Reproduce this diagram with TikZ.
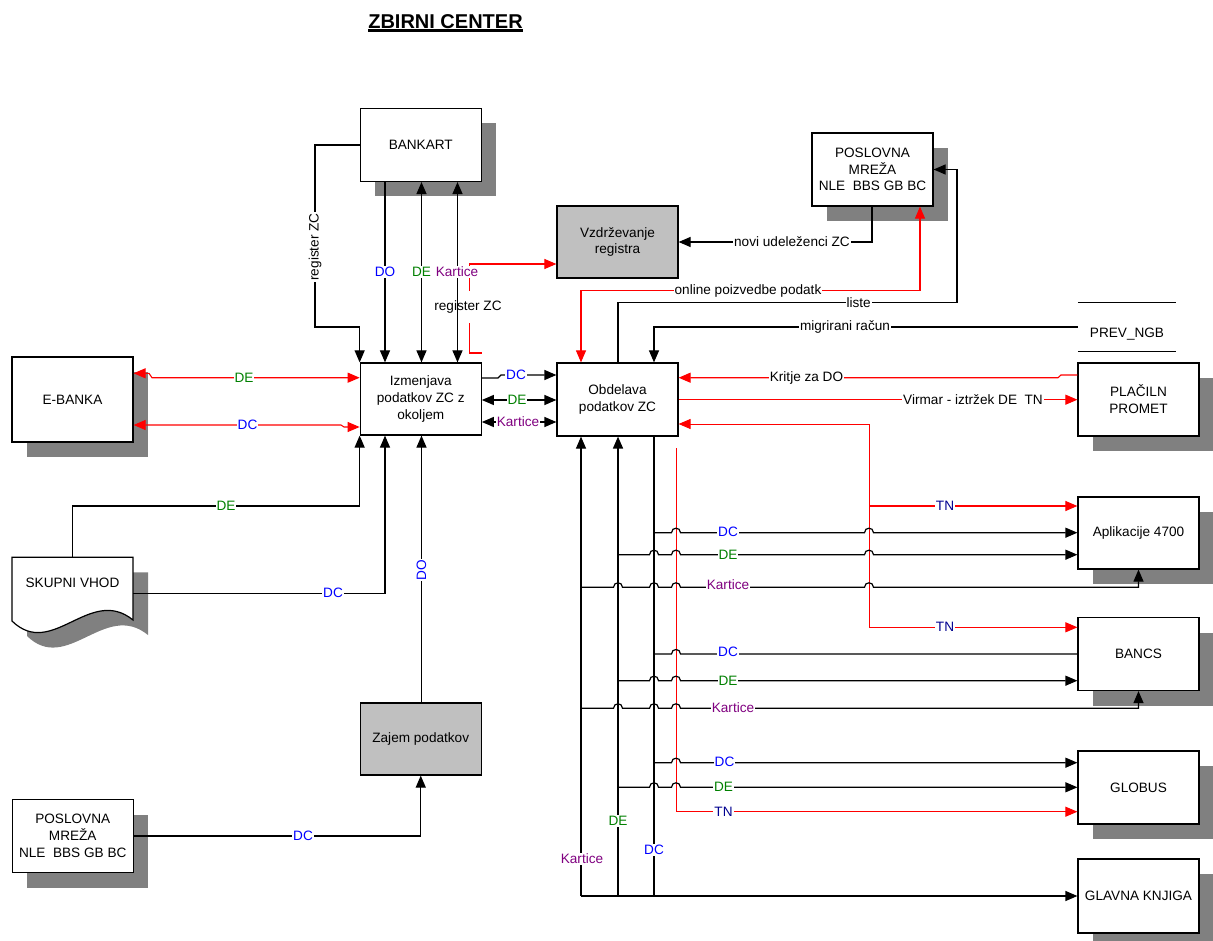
\documentclass[tikz,border=0pt]{standalone}
\usepackage{fontspec}
\setmainfont{Liberation Sans}
\usetikzlibrary{arrows.meta,shadows,calc}
\definecolor{shgray}{HTML}{808080}
\definecolor{boxgray}{HTML}{C0C0C0}
\definecolor{cDO}{HTML}{0000FF}
\definecolor{cDE}{HTML}{008000}
\definecolor{cK}{HTML}{800080}
\definecolor{cTN}{HTML}{000090}
\newcommand\lblfont{\fontsize{13.6}{16.8}\selectfont}
\newcommand\hopat[2]{-- ({#1-4.5},#2) .. controls ({#1-4.5},{#2-6}) and ({#1+4.5},{#2-6}) .. ({#1+4.5},#2)}
\begin{document}
\begin{tikzpicture}[x=1pt,y=-1pt,
  >={Triangle[length=12pt,width=10pt]},
  box/.style={draw=black, line width=1.2pt, fill=white, minimum width=121pt, minimum height=73pt, inner sep=2pt, align=center, font=\lblfont},
  shbox/.style={box, general shadow={fill=shgray, shadow xshift=15pt, shadow yshift=-15pt}},
  graybox/.style={box, fill=boxgray},
  ln/.style={line width=1.2pt, draw=black},
  rl/.style={line width=1.1pt, draw=red},
  lab/.style={fill=white, inner sep=1pt, font=\lblfont}]
\useasboundingbox (0,0) rectangle (1213,941);
\clip (0,0) rectangle (1213,941);

% title
\node[font=\fontsize{20}{24}\selectfont\bfseries, inner sep=0pt, anchor=base] (title) at (445.5,28.3) {ZBIRNI CENTER};
\draw[line width=2.2pt] ($(title.base west)+(0,2.2)$) -- ($(title.base east)+(0,2.2)$);

% nodes
\node[shbox] (bankart) at (420.75,145) {BANKART};
\node[shbox] (post) at (872.5,169.5) {POSLOVNA\\MREŽA\\NLE\ \ BBS GB BC};
\node[graybox, minimum height=72pt] (vzd) at (617.5,242) {Vzdrževanje\\registra};
\node[shbox, minimum height=85pt] (ebanka) at (72.5,399.5) {E-BANKA};
\node[box, minimum height=72pt] (izm) at (420.75,399) {Izmenjava\\podatkov ZC z\\okoljem};
\node[box] (obd) at (617.5,399.5) {Obdelava\\podatkov ZC};
\node[shbox] (plac) at (1138.5,399.5) {PLAČILN\\PROMET};
\node[shbox, minimum height=72pt] (apl) at (1138.5,533) {Aplikacije 4700};
\node[shbox] (bancs) at (1138.5,654) {BANCS};
\node[shbox] (globus) at (1138.5,787.5) {GLOBUS};
\node[shbox, minimum height=74pt] (glavna) at (1138.5,896) {GLAVNA KNJIGA};
\node[graybox, minimum height=72pt] (zajem) at (420.75,739) {Zajem podatkov};
\node[shbox] (posb) at (72.75,836) {POSLOVNA\\MREŽA\\NLE\ \ BBS GB BC};

% data store PREV_NGB
\node[minimum width=98pt, minimum height=48pt, inner sep=0pt] (prev) at (1127,327) {};
\draw[ln] (prev.north west) -- (prev.north east);
\draw[ln] (prev.south west) -- (prev.south east);
\node[font=\lblfont] (prevtxt) at (1127,334.5) {PREV\_NGB};

% SKUPNI VHOD document shape
\fill[shgray] (27,572.3) -- (148,572.3) -- (148,635) .. controls (105,600) and (67,675) .. (27,636) -- cycle;
\draw[line width=1.2pt, fill=white] (12,557.3) -- (133,557.3) -- (133,620) .. controls (90,585) and (52,660) .. (12,621) -- cycle;
\node[font=\lblfont] (skupni) at (72.5,583) {SKUPNI VHOD};
\coordinate (skuptop) at (72.8,557.3);
\coordinate (skupright) at (133,593.3);

\coordinate (xDO) at (385,0);
\coordinate (xDE) at (421.5,0);
\coordinate (xK) at (457.5,0);

% BANKART connectors
\draw[ln,->] (bankart.west) -- (315,145) -- (315,327) -- (izm.north west |- 0,327) -- (izm.north west);
\node[lab, rotate=90] (lregzc) at (315,247) {register ZC};
\draw[ln,->] (bankart.south -| xDO) -- (izm.north -| xDO);
\node[lab,text=cDO] at (385,272) {DO};
\draw[ln,<->] (izm.north -| xDE) -- (bankart.south -| xDE);
\node[lab,text=cDE] at (421.5,272) {DE};
\draw[rl,->] (izm.north east |- 0,353) -- (469.5,353) -- (469.5,264) -- (vzd.west |- 0,264);
\node[lab, inner ysep=10pt] at (468,307) {register ZC};
\draw[ln,<->] (izm.north -| xK) -- (bankart.south -| xK);
\node[lab,text=cK] at (457,272) {Kartice};

% Vzdrzevanje / POSLOVNA top
\draw[ln,->] (post.south -| 872,0) -- (872,242) -- (vzd.east);
\node[lab] at (792,242) {novi udeleženci ZC};
\draw[rl,<->] (obd.north -| 581,0) -- (581,290.7) -- (920,290.7) -- (post.south -| 920,0);
\node[lab] at (748,290.7) {online poizvedbe podatk};
\draw[ln,->] (obd.north -| 618,0) -- (618,302.7) -- (957,302.7) -- (957,169.5) -- (post.east);
\node[lab] at (858.6,302.7) {liste};
\draw[ln,->] (prev.west) -- (654,327) -- (obd.north -| 654,0);
\node[lab] at (845,327) {migrirani račun};

% Izmenjava <-> Obdelava
\draw[ln,->] (izm.east |- 0,378) -- (498,378) -- (501,375) -- (obd.west |- 0,375);
\node[lab,text=cDO] at (516,375) {DC};
\draw[ln,<->] (izm.east |- 0,400) -- (obd.west |- 0,400);
\node[lab,text=cDE] at (517,400) {DE};
\draw[ln,<->] (izm.east |- 0,422) -- (obd.west |- 0,422);
\node[lab,text=cK] at (518,422) {Kartice};

% E-BANKA
\draw[rl,<->] (ebanka.east |- 0,373.3) -- (149,373.3) -- (152,377.7) -- (izm.west |- 0,377.7);
\node[lab,text=cDE] at (244,377.5) {DE};
\draw[rl,<->] (ebanka.east |- 0,425) -- (341,425) -- (344,427) -- (izm.west |- 0,427);
\node[lab,text=cDO] at (247.5,425) {DC};

% SKUPNI VHOD
\draw[ln,->] (skuptop) -- (72.8,506) -- (izm.south west |- 0,506) -- (izm.south west);
\node[lab,text=cDE] at (226,506) {DE};
\draw[ln,->] (skupright) -- (385,593.3) -- (izm.south -| xDO);
\node[lab,text=cDO] at (333,593.3) {DC};

% Zajem
\draw[ln,->] (zajem.north -| xDE) -- (izm.south -| xDE);
\node[lab,text=cDO,rotate=90] at (421.5,570) {DO};
\draw[ln,->] (posb.east) -- (zajem.south |- posb.east) -- (zajem.south);
\node[lab,text=cDO] at (303,836) {DC};

% PLACILNI PROMET
\draw[rl,->] (plac.west |- 0,375) -- (1061,375) -- (1058,377.7) -- (obd.east |- 0,377.7);
\node[lab] at (806.5,378) {Kritje za DO};
\draw[rl,->] (obd.east |- 0,399.7) -- (plac.west |- 0,399.7);
\node[lab] at (973,399.7) {Virmar - iztržek DE\ \ TN};

% red TN lines
\draw[rl,<->,line width=1pt] (obd.east |- 0,424) -- (869,424) -- (869,627.3) -- (bancs.west |- 0,627.3);
\draw[rl,->] (869,506) -- (apl.west |- 0,506);
\node[lab,text=cTN] at (945,506) {TN};
\node[lab,text=cTN] at (945,627.3) {TN};
\coordinate (redtop) at (676,448);
\draw[rl,->,line width=1pt] (redtop) -- (676,811.7) -- (globus.west |- 0,811.7);

% buses below Obdelava
\coordinate (busK) at (581,896);
\coordinate (busE) at (618,896);
\coordinate (busC) at (654,896);
\draw[ln,->] (busK) -- (obd.south -| busK);
\draw[ln,->,line width=1.6pt] (busE) -- (obd.south -| busE);
\draw[ln] (busC) -- (obd.south -| busC);
\draw[ln,->] (busK) -- (glavna.west);

% Aplikacije branches
\draw[ln,->] (654,532.7) \hopat{676}{532.7} \hopat{869}{532.7} -- (apl.west |- 0,532.7);
\draw[ln,->] (618,554.7) \hopat{654}{554.7} \hopat{676}{554.7} \hopat{869}{554.7} -- (apl.west |- 0,554.7);
\draw[ln,->] (581,587.3) \hopat{618}{587.3} \hopat{654}{587.3} \hopat{676}{587.3} \hopat{869}{587.3} -- (apl.south |- 0,587.3) -- (apl.south);
\node[lab,text=cDO] at (728,531.5) {DC};
\node[lab,text=cDE] at (728,554.7) {DE};
\node[lab,text=cK] at (728,585) {Kartice};

% BANCS branches
\draw[ln] (654,654) \hopat{676}{654} -- (bancs.west);
\draw[ln,->] (618,680.7) \hopat{654}{680.7} \hopat{676}{680.7} -- (bancs.west |- 0,680.7);
\draw[ln,->] (581,708.3) \hopat{618}{708.3} \hopat{654}{708.3} \hopat{676}{708.3} -- (bancs.south |- 0,708.3) -- (bancs.south);
\node[lab,text=cDO] at (728,652) {DC};
\node[lab,text=cDE] at (728,680.7) {DE};
\node[lab,text=cK] at (733,707.5) {Kartice};

% GLOBUS branches
\draw[ln,->] (654,762.7) \hopat{676}{762.7} -- (globus.west |- 0,762.7);
\draw[ln,->] (618,787.3) \hopat{654}{787.3} \hopat{676}{787.3} -- (globus.west |- 0,787.3);
\node[lab,text=cDO] at (724.5,762) {DC};
\node[lab,text=cDE] at (723.5,787.3) {DE};
\node[lab,text=cTN] at (723.5,811.7) {TN};

% bus labels
\node[lab,text=cK] at (582,859) {Kartice};
\node[lab,text=cDE] at (618,821) {DE};
\node[lab,text=cDO] at (654,850) {DC};
\end{tikzpicture}
\end{document}
